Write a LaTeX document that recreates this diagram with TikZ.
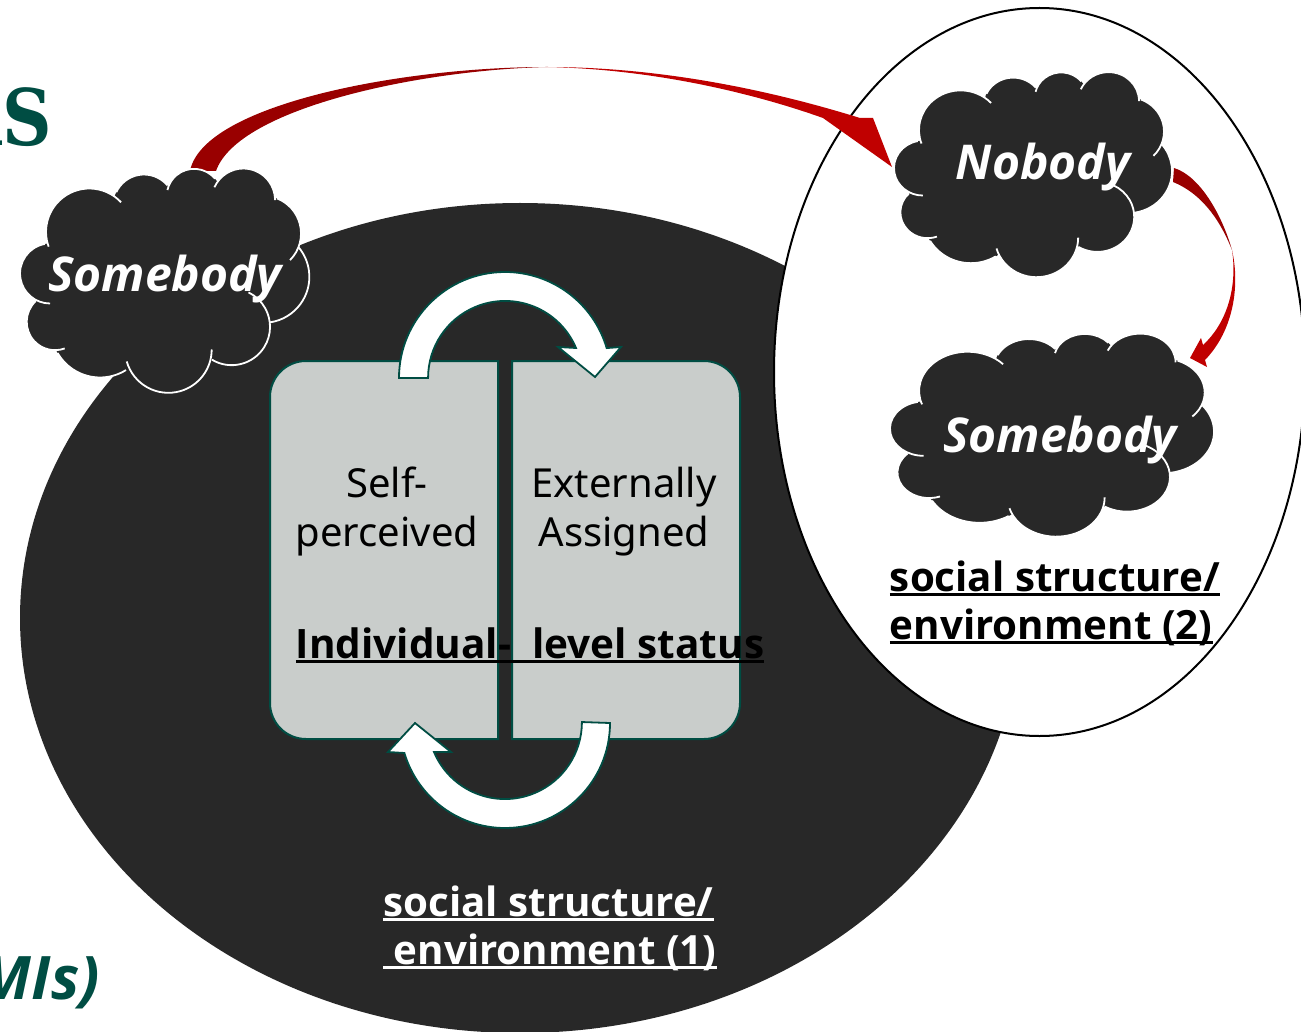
\documentclass[tikz,border=0pt]{standalone}
\usepackage{fontspec}
\setmainfont{Noto Sans}
\newfontfamily\boldsans{Open Sans}
\newfontfamily\titleserif{DejaVu Serif}
\definecolor{darkfill}{HTML}{282828}
\definecolor{teal}{HTML}{004D43}
\definecolor{boxgrey}{HTML}{C9CDCB}
\definecolor{reddark}{HTML}{990000}
\definecolor{redlight}{HTML}{C00000}
\newcommand\ulx[1]{\setbox0\hbox{#1}\rlap{\rule[-4.5pt]{\wd0}{2.4pt}}\box0}
\newcommand\cloudlobes{268/515/130/43/200,150/640/90/100/270,165/785/85/133/290,300/805/147/210/302,505/868/130/196/360,695/800/115/239/424,790/650/138/278/400,790/520/113/-45/69,730/420/95/0/156,582/408/82/40/167,432/435/92/40/155}
\newcommand\cloudshape[4]{%
 \begin{scope}[shift={(#1,#2)},x=#3pt,y=#4pt]
  \fill[darkfill] (-226,146) -- (-344,21) -- (-329,-124) -- (-194,-144) -- (11,-207) -- (201,-139) -- (296,11) -- (296,141) -- (236,241) -- (88,253) -- (-62,226) -- cycle;
  \foreach \cx/\cy/\r/\aa/\bb in \cloudlobes {
   \fill[darkfill] ({\cx-494},{661-\cy}) circle[radius=\r];
  }
  \foreach \cx/\cy/\r/\aa/\bb in \cloudlobes {
   \draw[white,line width=1.8pt] ({\cx-494+\r*cos(\aa)},{661-\cy+\r*sin(\aa)}) arc[start angle=\aa,end angle=\bb,radius=\r];
  }
 \end{scope}}
\tikzset{
 cloudtext/.style={inner sep=0pt,text=white,font=\fontsize{48}{58}\selectfont\boldsans\bfseries\itshape,anchor=base},
 bodytext/.style={inner sep=0pt,align=center,font=\fontsize{40}{49}\selectfont},
 headtext/.style={inner sep=0pt,align=left,font=\fontsize{40.3}{48}\selectfont\boldsans\bfseries},
 arrowband/.style={fill=white,draw=teal,line width=1.8pt,line join=miter},
 halfbox/.style={fill=boxgrey,draw=teal,line width=2pt}
}
\begin{document}
\begin{tikzpicture}[x=1pt,y=-1pt]
\useasboundingbox (0,0) rectangle (1301,1032);
\clip (0,0) rectangle (1301,1032);
\fill[white] (0,0) rectangle (1301,1032);

% partial titles
\node[inner sep=0pt,anchor=base east,text=teal,xscale=0.88,font=\fontsize{78}{90}\selectfont\titleserif\bfseries] (titleS) at (52,146) {AS};
\node[inner sep=0pt,anchor=base east,text=teal,font=\fontsize{60}{70}\selectfont\boldsans\bfseries\itshape] (titleM) at (100,999) {MIs)};

% environments
\fill[darkfill] (520,618) circle[x radius=500,y radius=415];
\filldraw[fill=white,draw=black,line width=2pt] (1039.5,372) circle[x radius=265.5,y radius=364];

% status boxes
\draw[halfbox] (498,361) [rounded corners=36pt] -- (270,361) -- (270,739) [sharp corners] -- (498,739) -- cycle;
\draw[halfbox] (512,361) [rounded corners=36pt] -- (740,361) -- (740,739) [sharp corners] -- (512,739) -- cycle;

% circular arrows
\draw[arrowband] (399,378) arc[start angle=180,end angle=343.6,radius=106] -- (621,347) -- (595,377) -- (558,347) -- (576,348) arc[start angle=337.1,end angle=180,radius=77] -- cycle;
\draw[arrowband] (610,723) arc[start angle=0,end angle=163.4,radius=105] -- (388,752) -- (415,723) -- (451,752) -- (434,752) arc[start angle=157.1,end angle=0,radius=77] -- cycle;

% red arrow from left cloud to Nobody
\coordinate (aStartL) at (190,171);
\coordinate (aStartR) at (216,171);
\coordinate (aThin) at (547,67);
\coordinate (aTip) at (892,167);
\fill[reddark] (aStartL) .. controls (203,105) and (400,67) .. (aThin) .. controls (420,70) and (238,108) .. (aStartR) -- cycle;
\fill[redlight] (aThin) .. controls (660,67) and (770,90) .. (860,118) -- (873,118) -- (aTip) -- (823,118) .. controls (750,92) and (650,69) .. (aThin) -- cycle;

% clouds
\cloudshape{164.7}{280.5}{0.3333}{0.3333}
\cloudshape{1033}{174.5}{0.3203}{0.3047}
\cloudshape{1052}{435}{0.3733}{0.3017}
\node[cloudtext] (left) at (165,292) {Somebody};
\node[cloudtext] (nobody) at (1043,180) {Nobody};
\node[cloudtext] (right) at (1060,452) {Somebody};

% red arrow from Nobody to right cloud
\coordinate (bStartT) at (1174,168);
\coordinate (bStartB) at (1173,182);
\coordinate (bThin) at (1232,250);
\coordinate (bTip) at (1190,358);
\fill[reddark] (bStartT) .. controls (1200,176) and (1222,215) .. (bThin) .. controls (1222,225) and (1205,195) .. (bStartB) -- cycle;
\fill[redlight] (bThin) .. controls (1240,285) and (1234,330) .. (1205,360) -- (1207,367) -- (bTip) -- (1201,338) -- (1203,345) .. controls (1225,325) and (1238,290) .. (bThin) -- cycle;

% texts
\node[bodytext] (self) at (387,511.5) {Self-\\perceived};
\node[bodytext] (ext) at (624,511.5) {Externally\\Assigned};
\node[inner sep=0pt,anchor=base,font=\fontsize{40.5}{48}\selectfont\boldsans\bfseries] (indiv) at (530,658) {\ulx{Individual-\ \ level status}};
\node[headtext,text=black] (env2) at (1055,603) {\ulx{social structure/}\\\ulx{environment (2)}};
\node[headtext,text=white] (env1) at (550,928) {\ulx{social structure/}\\\ulx{\ environment (1)}};
\end{tikzpicture}
\end{document}
